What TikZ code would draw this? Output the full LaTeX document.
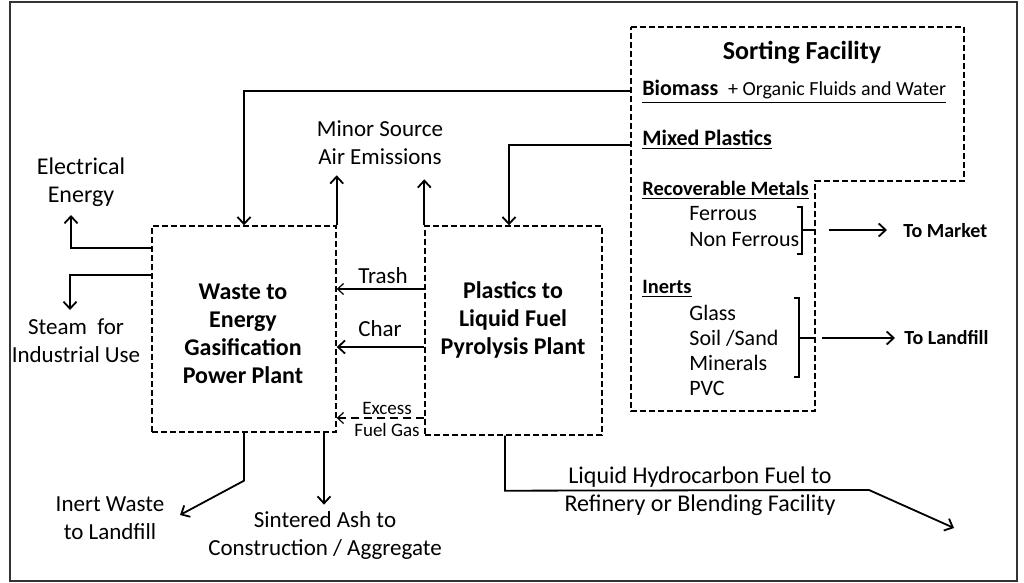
\documentclass[tikz,border=0pt]{standalone}
\usepackage{fontspec}
\setmainfont{Carlito}
\usetikzlibrary{positioning, arrows.meta}

\tikzset{
  plant/.style={draw, dash pattern=on 3pt off 1.5pt, line width=0.7pt, inner sep=0pt},
  plantname/.style={align=center, inner sep=0pt, font=\fontsize{12}{14}\selectfont\bfseries},
  flow/.style={line width=0.9pt, -{Straight Barb[length=3.5pt, width=6.5pt]}},
  thinflow/.style={line width=0.6pt, -{Straight Barb[length=3pt, width=5.5pt]}},
  lbl/.style={inner sep=0pt, align=center, font=\fontsize{11.5}{14}\selectfont},
  item/.style={inner sep=0pt, anchor=west, font=\fontsize{11}{12.5}\selectfont},
  smalltext/.style={inner sep=0pt, font=\fontsize{9.5}{11}\selectfont},
  outtext/.style={inner sep=0pt, anchor=west, font=\fontsize{10}{12}\selectfont\bfseries},
}

\begin{document}
\begin{tikzpicture}[x=0.5pt, y=-0.5pt]

    \useasboundingbox (0,0) rectangle (1024,583);

    % Outer frame
    \draw[line width=1pt, black!80] (10,2) rectangle (1017,581);

    % The two plants
    \node[plant, minimum width=92pt, minimum height=103pt] (gasif) at (244,329) {};
    \node[plantname] (gasiftext) at (243,334) {Waste to\\Energy\\Gasification\\Power Plant};

    \node[plant, minimum width=88.5pt, minimum height=104.5pt] (pyro) at (513.5,330.5) {};
    \node[plantname] (pyrotext) at (513,320) {Plastics to\\Liquid Fuel\\Pyrolysis Plant};

    % Sorting facility
    \draw[plant] (631,27) -- (964,27) -- (964,181) -- (815,181) -- (815,411) -- (631,411) -- cycle;
    \coordinate (sort) at (631,27);
    \node[plantname, font=\fontsize{13}{15}\selectfont\bfseries] (sorttitle) at (802,53) {Sorting Facility};
    \node[item] (biomass) at (642,92) {\underline{\textbf{Biomass}~ {\fontsize{10}{12}\selectfont + Organic Fluids and Water}}};
    \node[item] (mixed) at (642,140) {\underline{\textbf{Mixed Plastics}}};
    \node[item, font=\fontsize{10.2}{12}\selectfont] (metals) at (642,190) {\underline{\textbf{Recoverable Metals}}};
    \node[item] (ferrous) at (689,214) {Ferrous};
    \node[item] (nonferrous) at (689,240) {Non Ferrous};
    \node[item, font=\fontsize{10.2}{12}\selectfont] (inerts) at (642,289) {\underline{\textbf{Inerts}}};
    \node[item] (glass) at (689,313) {Glass};
    \node[item] (soil) at (689,338) {Soil /Sand};
    \node[item] (minerals) at (689,363) {Minerals};
    \node[item] (pvc) at (689,388) {PVC};

    % Brackets
    \draw[line width=0.8pt] (797,207) -- (802,207) -- (802,254) -- (797,254) (802,230) -- (815,230);
    \draw[line width=0.8pt] (794,298) -- (799,298) -- (799,377) -- (794,377) (799,338) -- (815,338);

    \node[outtext] (market) at (903,231) {To Market};
    \node[outtext] (landfill) at (904,338) {To Landfill};
    \draw[flow] (829,230) -- (887,230);
    \draw[flow] (822,338) -- (895,338);

    % Feeds from the sorting facility
    \draw[flow] (sort |- 0,91) -| (gasif.north);
    \draw[flow] (sort |- 0,145) -| ([xshift=-2.25pt]pyro.north);

    % Air emissions
    \node[lbl] (emis) at (380,143) {Minor Source\\Air Emissions};
    \draw[flow] (gasif.north east) -- ++(0,-50);
    \draw[flow] (pyro.north west) -- ++(0,-46);

    % Energy out of the gasifier
    \node[lbl, font=\fontsize{12}{14}\selectfont] (elec) at (81,182) {Electrical\\Energy};
    \coordinate (elecend) at (71,215);
    \draw[flow] (gasif.west |- 0,248) -| (elecend);
    \node[lbl] (steam) at (76,341) {Steam~ for\\Industrial Use};
    \coordinate (steamend) at (70,310);
    \draw[flow] (gasif.west |- 0,275) -| (steamend);

    % Pyrolysis products to the gasifier
    \node[lbl] (trash) at (383,276) {Trash};
    \draw[thinflow] (pyro.west |- 0,289) -- (gasif.east |- 0,289);
    \node[lbl] (char) at (380,329) {Char};
    \draw[flow] (pyro.west |- 0,347) -- (gasif.east |- 0,347);
    \node[smalltext] (excess) at (387,408) {Excess};
    \node[smalltext] (fuelgas) at (387,430) {Fuel Gas};
    \draw[thinflow, dash pattern=on 4pt off 2.5pt] (pyro.west |- 0,418) -- (gasif.east |- 0,418);

    % Residues
    \node[lbl] (inert) at (110,518) {Inert Waste\\to Landfill};
    \coordinate (inertend) at (180,515);
    \draw[flow] (gasif.south) -- ++(0,48) -- (inertend);
    \node[lbl] (sint) at (325,535) {Sintered Ash to\\Construction / Aggregate};
    \draw[flow] (gasif.south -| 324,0) -- ([yshift=3pt]sint.north -| 324,0);

    % Liquid fuel out
    \node[lbl, font=\fontsize{12}{14}\selectfont] (liquid) at (700,491) {Liquid Hydrocarbon Fuel to\\Refinery or Blending Facility};
    \coordinate (liquidend) at (954,528);
    \draw[flow] ([xshift=-4.25pt]pyro.south) -- ++(0,55) -- (869,490) -- (liquidend);

\end{tikzpicture}
\end{document}
